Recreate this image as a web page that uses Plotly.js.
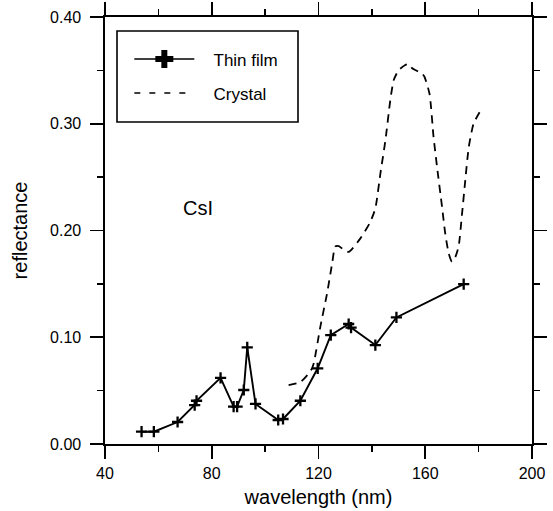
<!DOCTYPE html>
<html>
<head>
<meta charset="utf-8">
<script src="https://cdn.plot.ly/plotly-3.0.1.min.js"></script>
<style>
html,body{margin:0;padding:0;background:#fff;}
#chart{width:553px;height:511px;}
</style>
</head>
<body>
<div id="chart"></div>
<script>
// Thin film measurements
const filmWavelength = [53.7, 58.3, 67.2, 73.6, 74.3, 83.3, 88.2, 89.5, 92.0, 93.3, 96.4, 104.9, 106.7, 113.2, 119.7, 124.6, 131.3, 132.2, 141.3, 149.2, 174.4];
const filmReflectance = [0.0115, 0.0115, 0.0206, 0.0365, 0.0405, 0.062, 0.035, 0.035, 0.0506, 0.0905, 0.0375, 0.0225, 0.0234, 0.0405, 0.0709, 0.102, 0.1124, 0.109, 0.0927, 0.1186, 0.1498];

// Crystal curve
const crystalWavelength = [108.8, 113.2, 117.2, 118.2, 120.7, 123.2, 125.1, 126.3, 127.6, 129.4, 131.3, 135.7, 139.4, 141.3, 143.2, 145.1, 146.9, 148.2, 150.0, 152.5, 153.8, 155.1, 158.8, 159.7, 161.6, 163.1, 164.4, 166.3, 167.5, 168.8, 170.0, 171.3, 172.5, 173.8, 175.0, 176.3, 178.1, 180.4];
const crystalReflectance = [0.0552, 0.058, 0.069, 0.0755, 0.110, 0.141, 0.169, 0.185, 0.1854, 0.182, 0.180, 0.1926, 0.208, 0.2207, 0.2535, 0.285, 0.322, 0.341, 0.350, 0.355, 0.356, 0.352, 0.347, 0.344, 0.328, 0.288, 0.260, 0.222, 0.197, 0.1785, 0.1707, 0.1754, 0.185, 0.216, 0.247, 0.278, 0.300, 0.311];

const seriesNames = ["Thin film", "Crystal"];
const xTickVals = [40, 80, 120, 160, 200];
const yTickVals = [0.0, 0.1, 0.2, 0.3, 0.4];
const sampleLabel = "CsI";

const FONT = "Liberation Sans, Arial, Helvetica, sans-serif";
const NB = "\u00a0\u00a0\u00a0";

const traces = [
  {
    x: filmWavelength, y: filmReflectance, type: "scatter", mode: "lines+markers",
    showlegend: false,
    line: {color: "#000", width: 1.9},
    marker: {symbol: "cross-thin", size: 8, color: "#000", line: {color: "#000", width: 2.3}}
  },
  {
    x: crystalWavelength, y: crystalReflectance, type: "scatter", mode: "lines",
    showlegend: false,
    line: {color: "#000", width: 1.8, dash: "8px,6px", shape: "spline", smoothing: 0.6}
  },
  {
    x: [null], y: [null], type: "scatter", mode: "lines+markers",
    name: NB + seriesNames[0], legendgroup: "a",
    line: {color: "#000", width: 1.5},
    marker: {symbol: "cross", size: 15, color: "#000"}
  },
  {
    x: [null], y: [null], type: "scatter", mode: "lines",
    name: NB + seriesNames[1], legendgroup: "b",
    line: {color: "#000", width: 1.5, dash: "6px,9px"}
  }
];

const axisCommon = {
  showline: true, linecolor: "#000", linewidth: 1.6,
  mirror: "ticks", ticks: "outside", ticklen: 13, tickwidth: 1.6, tickcolor: "#000",
  showgrid: false, zeroline: false,
  tickfont: {family: FONT, size: 16, color: "#000"},
  fixedrange: true
};

const layout = {
  width: 553, height: 511,
  margin: {l: 105, r: 21, t: 17, b: 67},
  paper_bgcolor: "#fff", plot_bgcolor: "#fff",
  font: {family: FONT, color: "#000"},
  xaxis: Object.assign({}, axisCommon, {
    range: [40, 200], tickvals: xTickVals, ticktext: xTickVals.map(String),
    minor: {dtick: 20, tick0: 40, ticks: "outside", ticklen: 6, tickwidth: 1.4, tickcolor: "#000"},
    ticklabelstandoff: 1,
    title: {text: "wavelength (nm)", font: {family: FONT, size: 20, color: "#000"}, standoff: 9}
  }),
  yaxis: Object.assign({}, axisCommon, {
    range: [0, 0.4], tickvals: yTickVals, ticktext: yTickVals.map(v => v.toFixed(2)),
    minor: {dtick: 0.05, tick0: 0, ticks: "outside", ticklen: 6, tickwidth: 1.4, tickcolor: "#000"},
    ticklabelstandoff: 6,
    title: {text: "reflectance", font: {family: FONT, size: 20, color: "#000"}, standoff: 17}
  }),
  showlegend: true,
  legend: {
    x: 0.057, xanchor: "left", y: 0.943, yanchor: "top",
    bgcolor: "rgba(0,0,0,0)", borderwidth: 0,
    itemwidth: 60, traceorder: "grouped", tracegroupgap: 9,
    font: {family: FONT, size: 17, color: "#000"}
  },
  shapes: [
    {type: "rect", xref: "paper", yref: "paper",
     x0: (117 - 105) / 427, x1: (298 - 105) / 427,
     y0: (444 - 122) / 427, y1: (444 - 31) / 427,
     line: {color: "#000", width: 1.6}, fillcolor: "rgba(0,0,0,0)", layer: "above"}
  ],
  annotations: [
    {x: 75, y: 0.221, xref: "x", yref: "y", text: sampleLabel, showarrow: false,
     font: {family: FONT, size: 20, color: "#000"}}
  ]
};

Plotly.newPlot("chart", traces, layout, {displayModeBar: false, staticPlot: true});
</script>
</body>
</html>
